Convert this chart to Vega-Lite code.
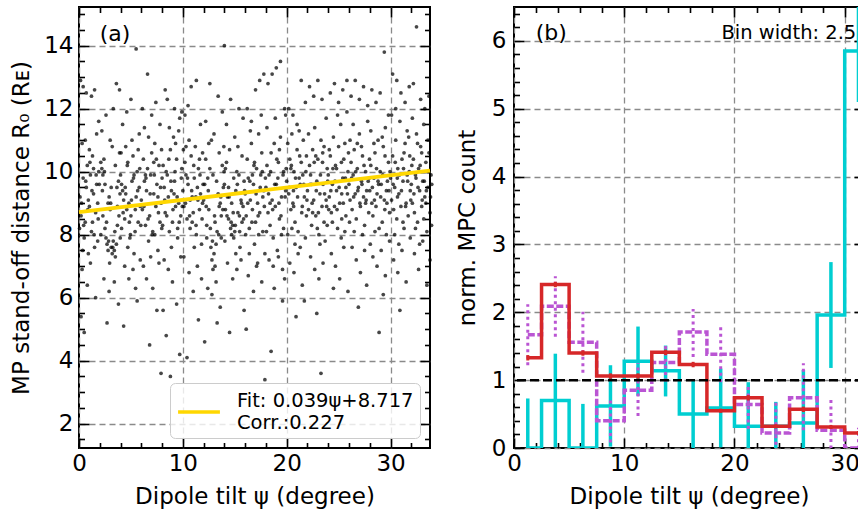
{
 "$schema": "https://vega.github.io/schema/vega-lite/v6.json",
 "padding": {"left": 9, "top": 5, "right": 0, "bottom": 0},
 "spacing": 16,
 "resolve": {"legend": {"color": "independent"}, "scale": {"color": "independent"}},
 "config": {
  "font": "DejaVu Sans",
  "view": {"stroke": "black", "strokeWidth": 2},
  "axis": {"domain": false, "tickColor": "black", "tickWidth": 1.6, "labelFont": "DejaVu Sans", "labelFontSize": 23, "labelColor": "black", "titleFont": "DejaVu Sans", "titleFontSize": 23, "titleFontWeight": "normal", "titleColor": "black", "gridColor": "#8a8a8a", "gridDash": [6, 4], "gridWidth": 1.3, "gridOpacity": 1, "labelOverlap": false, "labelFlush": false}
 },
 "datasets": {
  "scatter": [
   {"t":0.1,"r":9.2},{"t":0.2,"r":8.6},{"t":0.3,"r":10.9},{"t":0.4,"r":9.8},{"t":0.5,"r":7.9},{"t":0.6,"r":8.4},{"t":0.7,"r":9.5},{"t":0.8,"r":10.2},{"t":0.9,"r":7.4},{"t":1.0,"r":8.9},{"t":1.1,"r":9.9},{"t":1.2,"r":8.1},{"t":1.3,"r":10.5},{"t":1.4,"r":9.3},{"t":1.5,"r":7.6},{"t":1.6,"r":8.7},{"t":1.7,"r":11.2},{"t":1.8,"r":9.0},{"t":1.9,"r":10.0},{"t":0.15,"r":12.9},{"t":0.4,"r":12.7},{"t":0.7,"r":12.5},{"t":1.2,"r":12.4},{"t":1.5,"r":12.6},{"t":0.3,"r":6.9},{"t":0.8,"r":6.4},{"t":1.1,"r":7.1},{"t":1.6,"r":6.0},{"t":0.2,"r":5.4},{"t":0.5,"r":4.9},{"t":1.9,"r":11.6},{"t":0.6,"r":11.0},{"t":1.0,"r":10.7},{"t":1.3,"r":8.4},{"t":1.7,"r":9.6},{"t":0.05,"r":8.2},{"t":0.9,"r":9.1},{"t":1.4,"r":10.1},{"t":1.8,"r":7.8},{"t":0.35,"r":7.5},
   {"t":2.1,"r":10.3},{"t":2.2,"r":10.1},{"t":2.3,"r":9.9},{"t":2.4,"r":10.4},{"t":2.5,"r":8.2},{"t":2.6,"r":7.9},{"t":2.7,"r":7.7},{"t":2.8,"r":7.5},{"t":2.9,"r":9.2},{"t":3.0,"r":8.8},{"t":3.1,"r":7.6},{"t":3.2,"r":7.4},{"t":3.3,"r":7.8},{"t":3.4,"r":7.5},{"t":3.5,"r":7.3},{"t":3.6,"r":7.7},{"t":3.7,"r":8.9},{"t":3.8,"r":9.7},{"t":3.9,"r":10.6},{"t":2.2,"r":11.3},{"t":2.6,"r":11.8},{"t":3.3,"r":12.0},{"t":3.6,"r":12.8},{"t":3.9,"r":12.6},{"t":2.4,"r":6.6},{"t":2.9,"r":6.2},{"t":3.4,"r":6.5},{"t":3.8,"r":5.8},{"t":2.7,"r":5.2},{"t":3.1,"r":9.5},{"t":2.3,"r":8.6},{"t":2.8,"r":9.0},{"t":3.5,"r":10.2},{"t":3.2,"r":10.8},{"t":2.5,"r":9.6},{"t":3.7,"r":8.3},{"t":2.1,"r":8.0},{"t":3.95,"r":9.3},{"t":3.0,"r":11.0},{"t":2.95,"r":7.1},
   {"t":4.0,"r":9.9},{"t":4.1,"r":9.6},{"t":4.2,"r":9.4},{"t":4.3,"r":9.1},{"t":4.4,"r":8.5},{"t":4.5,"r":10.8},{"t":4.6,"r":8.8},{"t":4.7,"r":10.3},{"t":4.8,"r":9.0},{"t":4.9,"r":7.9},{"t":5.0,"r":8.6},{"t":5.1,"r":9.7},{"t":5.2,"r":10.5},{"t":5.3,"r":7.4},{"t":5.4,"r":8.1},{"t":5.5,"r":9.2},{"t":5.6,"r":10.0},{"t":5.7,"r":8.4},{"t":5.8,"r":9.5},{"t":5.9,"r":8.9},{"t":4.2,"r":11.5},{"t":4.6,"r":11.9},{"t":5.0,"r":12.3},{"t":5.5,"r":13.9},{"t":5.8,"r":11.2},{"t":4.4,"r":7.0},{"t":4.8,"r":6.6},{"t":5.2,"r":6.9},{"t":5.6,"r":5.9},{"t":4.3,"r":5.1},{"t":5.9,"r":7.2},{"t":4.1,"r":8.2},{"t":4.7,"r":7.6},{"t":5.3,"r":9.9},{"t":5.1,"r":11.0},{"t":4.5,"r":9.3},{"t":5.7,"r":10.7},{"t":4.95,"r":8.0},{"t":5.45,"r":6.3},{"t":4.05,"r":10.6},
   {"t":6.0,"r":9.1},{"t":6.1,"r":8.8},{"t":6.2,"r":10.4},{"t":6.3,"r":9.7},{"t":6.4,"r":8.3},{"t":6.5,"r":9.4},{"t":6.6,"r":10.1},{"t":6.7,"r":7.8},{"t":6.8,"r":8.6},{"t":6.9,"r":9.9},{"t":7.0,"r":10.6},{"t":7.1,"r":8.1},{"t":7.2,"r":9.3},{"t":7.3,"r":10.9},{"t":7.4,"r":8.9},{"t":7.5,"r":9.6},{"t":7.6,"r":7.5},{"t":7.7,"r":10.2},{"t":7.8,"r":8.4},{"t":7.9,"r":9.0},{"t":6.3,"r":11.4},{"t":6.6,"r":13.1},{"t":7.0,"r":11.8},{"t":7.4,"r":12.2},{"t":7.8,"r":11.5},{"t":6.2,"r":7.0},{"t":6.5,"r":6.6},{"t":7.1,"r":6.3},{"t":7.5,"r":5.6},{"t":6.8,"r":4.5},{"t":7.9,"r":3.6},{"t":6.1,"r":12.0},{"t":6.9,"r":7.3},{"t":7.3,"r":8.0},{"t":7.7,"r":7.1},{"t":6.4,"r":9.9},{"t":7.2,"r":10.3},{"t":7.6,"r":9.2},{"t":6.7,"r":11.1},{"t":7.95,"r":10.7},
   {"t":8.0,"r":9.8},{"t":8.1,"r":10.2},{"t":8.2,"r":9.5},{"t":8.3,"r":8.7},{"t":8.4,"r":10.0},{"t":8.5,"r":12.3},{"t":8.6,"r":9.2},{"t":8.7,"r":8.1},{"t":8.8,"r":10.7},{"t":8.9,"r":9.4},{"t":9.0,"r":8.4},{"t":9.1,"r":11.1},{"t":9.2,"r":9.7},{"t":9.3,"r":8.9},{"t":9.4,"r":10.4},{"t":9.5,"r":7.9},{"t":9.6,"r":9.0},{"t":9.7,"r":11.7},{"t":9.8,"r":8.6},{"t":9.9,"r":10.1},{"t":8.3,"r":12.6},{"t":8.7,"r":11.4},{"t":9.2,"r":12.0},{"t":9.6,"r":11.3},{"t":9.9,"r":11.9},{"t":8.2,"r":7.2},{"t":8.6,"r":6.9},{"t":9.0,"r":6.5},{"t":9.4,"r":5.8},{"t":8.8,"r":3.5},{"t":8.4,"r":4.8},{"t":9.7,"r":4.2},{"t":8.1,"r":5.6},{"t":9.8,"r":7.3},{"t":8.9,"r":7.6},{"t":9.3,"r":10.9},{"t":8.5,"r":9.9},{"t":9.5,"r":8.2},{"t":8.05,"r":8.3},{"t":9.15,"r":9.3},
   {"t":10.0,"r":9.4},{"t":10.1,"r":8.9},{"t":10.2,"r":10.3},{"t":10.3,"r":9.9},{"t":10.4,"r":8.5},{"t":10.5,"r":9.6},{"t":10.6,"r":11.0},{"t":10.7,"r":8.2},{"t":10.8,"r":10.5},{"t":10.9,"r":9.2},{"t":11.0,"r":8.7},{"t":11.1,"r":9.8},{"t":11.2,"r":10.8},{"t":11.3,"r":8.0},{"t":11.4,"r":9.5},{"t":11.5,"r":10.1},{"t":11.6,"r":8.8},{"t":11.7,"r":9.3},{"t":11.8,"r":7.7},{"t":11.9,"r":10.6},{"t":10.2,"r":11.8},{"t":10.5,"r":12.1},{"t":10.8,"r":12.7},{"t":11.3,"r":12.9},{"t":11.7,"r":11.5},{"t":10.1,"r":7.3},{"t":10.6,"r":6.8},{"t":11.0,"r":6.2},{"t":11.4,"r":7.0},{"t":11.8,"r":6.6},{"t":10.4,"r":4.1},{"t":11.5,"r":5.3},{"t":10.9,"r":8.4},{"t":11.1,"r":7.6},{"t":10.3,"r":10.8},{"t":11.6,"r":10.4},{"t":10.7,"r":9.1},{"t":11.9,"r":9.0},{"t":10.05,"r":10.7},{"t":11.25,"r":9.2},
   {"t":12.0,"r":9.1},{"t":12.1,"r":9.6},{"t":12.2,"r":10.4},{"t":12.3,"r":8.3},{"t":12.4,"r":9.8},{"t":12.5,"r":8.8},{"t":12.6,"r":10.1},{"t":12.7,"r":7.6},{"t":12.8,"r":7.2},{"t":12.9,"r":6.9},{"t":13.0,"r":7.4},{"t":13.1,"r":7.0},{"t":13.2,"r":7.7},{"t":13.3,"r":8.1},{"t":13.4,"r":9.3},{"t":13.5,"r":10.6},{"t":13.6,"r":9.0},{"t":13.7,"r":8.6},{"t":13.8,"r":10.2},{"t":13.9,"r":9.5},{"t":12.2,"r":11.6},{"t":12.6,"r":12.8},{"t":13.0,"r":11.2},{"t":13.4,"r":12.4},{"t":13.8,"r":11.9},{"t":12.4,"r":6.3},{"t":12.8,"r":6.1},{"t":13.2,"r":6.5},{"t":13.6,"r":5.7},{"t":12.1,"r":4.6},{"t":13.3,"r":5.2},{"t":14.0,"r":14.0},{"t":12.5,"r":10.9},{"t":13.1,"r":8.4},{"t":13.7,"r":7.9},{"t":12.9,"r":9.9},{"t":12.3,"r":7.9},{"t":13.5,"r":8.9},{"t":12.75,"r":11.0},{"t":13.95,"r":10.8},
   {"t":14.0,"r":9.6},{"t":14.1,"r":8.8},{"t":14.2,"r":10.3},{"t":14.3,"r":9.2},{"t":14.4,"r":8.5},{"t":14.5,"r":10.7},{"t":14.6,"r":8.2},{"t":14.7,"r":8.0},{"t":14.8,"r":8.3},{"t":14.9,"r":7.9},{"t":15.0,"r":8.1},{"t":15.1,"r":9.4},{"t":15.2,"r":10.0},{"t":15.3,"r":8.7},{"t":15.4,"r":9.9},{"t":15.5,"r":7.6},{"t":15.6,"r":9.1},{"t":15.7,"r":10.5},{"t":15.8,"r":8.9},{"t":15.9,"r":9.7},{"t":14.2,"r":11.5},{"t":14.6,"r":12.3},{"t":15.0,"r":11.1},{"t":15.4,"r":12.0},{"t":15.8,"r":11.7},{"t":14.3,"r":7.1},{"t":14.8,"r":6.6},{"t":15.2,"r":6.9},{"t":15.6,"r":7.2},{"t":14.5,"r":4.9},{"t":15.9,"r":5.6},{"t":14.1,"r":10.1},{"t":14.9,"r":9.8},{"t":15.3,"r":10.8},{"t":14.7,"r":9.0},{"t":15.1,"r":7.4},{"t":15.7,"r":8.4},{"t":14.4,"r":9.5},{"t":15.45,"r":8.6},{"t":14.05,"r":7.8},
   {"t":16.0,"r":9.3},{"t":16.1,"r":8.6},{"t":16.2,"r":10.4},{"t":16.3,"r":9.8},{"t":16.4,"r":8.2},{"t":16.5,"r":9.1},{"t":16.6,"r":10.9},{"t":16.7,"r":8.8},{"t":16.8,"r":9.6},{"t":16.9,"r":7.7},{"t":17.0,"r":8.4},{"t":17.1,"r":10.1},{"t":17.2,"r":9.0},{"t":17.3,"r":11.2},{"t":17.4,"r":8.7},{"t":17.5,"r":9.9},{"t":17.6,"r":10.6},{"t":17.7,"r":8.1},{"t":17.8,"r":9.4},{"t":17.9,"r":7.4},{"t":16.2,"r":12.0},{"t":16.6,"r":11.6},{"t":17.0,"r":12.6},{"t":17.4,"r":12.9},{"t":17.8,"r":13.1},{"t":16.3,"r":6.7},{"t":16.8,"r":6.2},{"t":17.2,"r":7.1},{"t":17.6,"r":6.5},{"t":16.1,"r":5.0},{"t":17.9,"r":3.4},{"t":16.5,"r":11.3},{"t":16.9,"r":10.3},{"t":17.3,"r":8.0},{"t":17.7,"r":9.2},{"t":16.4,"r":7.4},{"t":17.1,"r":7.0},{"t":16.7,"r":9.9},{"t":17.55,"r":11.8},{"t":16.05,"r":8.0},
   {"t":18.0,"r":9.5},{"t":18.1,"r":10.2},{"t":18.2,"r":8.7},{"t":18.3,"r":9.9},{"t":18.4,"r":8.3},{"t":18.5,"r":10.6},{"t":18.6,"r":9.1},{"t":18.7,"r":7.9},{"t":18.8,"r":10.9},{"t":18.9,"r":8.9},{"t":19.0,"r":9.6},{"t":19.1,"r":7.5},{"t":19.2,"r":10.3},{"t":19.3,"r":8.5},{"t":19.4,"r":11.1},{"t":19.5,"r":9.2},{"t":19.6,"r":6.9},{"t":19.7,"r":10.0},{"t":19.8,"r":6.6},{"t":19.9,"r":9.4},{"t":18.2,"r":12.8},{"t":18.6,"r":13.1},{"t":19.0,"r":13.3},{"t":19.4,"r":13.5},{"t":19.8,"r":12.0},{"t":18.3,"r":7.2},{"t":18.8,"r":6.3},{"t":19.2,"r":7.3},{"t":19.6,"r":5.9},{"t":18.5,"r":4.3},{"t":19.9,"r":11.8},{"t":18.1,"r":11.4},{"t":18.9,"r":11.7},{"t":19.3,"r":10.7},{"t":18.4,"r":9.0},{"t":19.7,"r":8.2},{"t":18.7,"r":7.0},{"t":19.5,"r":8.0},{"t":18.05,"r":8.1},{"t":19.15,"r":9.8},
   {"t":20.0,"r":9.7},{"t":20.1,"r":10.9},{"t":20.2,"r":9.3},{"t":20.3,"r":10.4},{"t":20.4,"r":8.8},{"t":20.5,"r":11.2},{"t":20.6,"r":9.0},{"t":20.7,"r":10.0},{"t":20.8,"r":8.4},{"t":20.9,"r":9.5},{"t":21.0,"r":10.7},{"t":21.1,"r":8.1},{"t":21.2,"r":9.8},{"t":21.3,"r":7.6},{"t":21.4,"r":10.3},{"t":21.5,"r":8.9},{"t":21.6,"r":11.0},{"t":21.7,"r":9.2},{"t":21.8,"r":7.9},{"t":21.9,"r":10.5},{"t":20.2,"r":12.0},{"t":20.6,"r":11.8},{"t":21.0,"r":11.5},{"t":21.4,"r":12.9},{"t":21.8,"r":12.2},{"t":20.3,"r":7.1},{"t":20.7,"r":6.8},{"t":21.1,"r":7.4},{"t":21.5,"r":6.4},{"t":20.9,"r":5.4},{"t":21.7,"r":5.9},{"t":20.1,"r":8.0},{"t":20.8,"r":7.7},{"t":21.3,"r":9.6},{"t":20.4,"r":10.1},{"t":21.9,"r":8.6},{"t":20.5,"r":8.2},{"t":21.2,"r":11.3},{"t":20.65,"r":9.4},{"t":21.55,"r":9.9},
   {"t":22.0,"r":9.4},{"t":22.1,"r":8.8},{"t":22.2,"r":10.2},{"t":22.3,"r":9.9},{"t":22.4,"r":8.3},{"t":22.5,"r":10.7},{"t":22.6,"r":9.1},{"t":22.7,"r":11.4},{"t":22.8,"r":8.6},{"t":22.9,"r":9.7},{"t":23.0,"r":10.4},{"t":23.1,"r":8.0},{"t":23.2,"r":9.3},{"t":23.3,"r":11.0},{"t":23.4,"r":8.9},{"t":23.5,"r":9.6},{"t":23.6,"r":10.8},{"t":23.7,"r":7.8},{"t":23.8,"r":9.1},{"t":23.9,"r":10.1},{"t":22.2,"r":12.7},{"t":22.6,"r":12.4},{"t":23.0,"r":12.9},{"t":23.4,"r":12.3},{"t":23.8,"r":11.7},{"t":22.3,"r":7.3},{"t":22.7,"r":6.9},{"t":23.1,"r":6.6},{"t":23.5,"r":7.1},{"t":22.9,"r":5.5},{"t":23.3,"r":3.6},{"t":22.1,"r":11.2},{"t":22.8,"r":10.5},{"t":23.6,"r":8.4},{"t":22.5,"r":8.7},{"t":23.2,"r":7.7},{"t":23.9,"r":8.3},{"t":22.4,"r":9.6},{"t":23.45,"r":10.3},{"t":22.95,"r":8.2},
   {"t":24.0,"r":9.9},{"t":24.1,"r":9.2},{"t":24.2,"r":10.5},{"t":24.3,"r":8.7},{"t":24.4,"r":9.6},{"t":24.5,"r":11.1},{"t":24.6,"r":8.9},{"t":24.7,"r":10.2},{"t":24.8,"r":9.4},{"t":24.9,"r":8.2},{"t":25.0,"r":10.8},{"t":25.1,"r":9.0},{"t":25.2,"r":11.5},{"t":25.3,"r":8.5},{"t":25.4,"r":9.8},{"t":25.5,"r":10.4},{"t":25.6,"r":8.1},{"t":25.7,"r":9.5},{"t":25.8,"r":11.9},{"t":25.9,"r":10.0},{"t":24.2,"r":12.5},{"t":24.6,"r":12.8},{"t":25.0,"r":12.2},{"t":25.4,"r":12.6},{"t":25.8,"r":12.9},{"t":24.3,"r":7.4},{"t":24.7,"r":7.0},{"t":25.1,"r":6.6},{"t":25.5,"r":7.6},{"t":24.5,"r":6.3},{"t":25.9,"r":6.2},{"t":24.1,"r":10.7},{"t":24.9,"r":11.8},{"t":25.3,"r":9.3},{"t":24.4,"r":8.4},{"t":25.7,"r":8.6},{"t":24.8,"r":10.1},{"t":25.6,"r":10.9},{"t":24.05,"r":8.8},{"t":25.25,"r":7.9},
   {"t":26.0,"r":9.6},{"t":26.1,"r":9.1},{"t":26.2,"r":10.3},{"t":26.3,"r":8.8},{"t":26.4,"r":9.9},{"t":26.5,"r":10.7},{"t":26.6,"r":9.3},{"t":26.7,"r":8.5},{"t":26.8,"r":10.1},{"t":26.9,"r":9.5},{"t":27.0,"r":11.2},{"t":27.1,"r":8.9},{"t":27.2,"r":9.7},{"t":27.3,"r":10.5},{"t":27.4,"r":9.2},{"t":27.5,"r":8.3},{"t":27.6,"r":10.0},{"t":27.7,"r":9.4},{"t":27.8,"r":11.6},{"t":27.9,"r":8.7},{"t":26.2,"r":12.4},{"t":26.6,"r":12.9},{"t":27.0,"r":12.3},{"t":27.4,"r":12.7},{"t":27.8,"r":12.1},{"t":26.3,"r":7.6},{"t":26.7,"r":7.2},{"t":27.1,"r":6.8},{"t":27.5,"r":7.5},{"t":26.9,"r":5.7},{"t":27.7,"r":6.4},{"t":26.1,"r":11.0},{"t":26.5,"r":8.1},{"t":27.3,"r":8.0},{"t":26.8,"r":10.9},{"t":27.6,"r":9.0},{"t":26.4,"r":11.5},{"t":27.2,"r":10.8},{"t":26.05,"r":8.4},{"t":27.95,"r":9.8},
   {"t":28.0,"r":9.4},{"t":28.1,"r":10.2},{"t":28.2,"r":9.0},{"t":28.3,"r":8.6},{"t":28.4,"r":9.8},{"t":28.5,"r":10.6},{"t":28.6,"r":8.9},{"t":28.7,"r":9.3},{"t":28.8,"r":11.0},{"t":28.9,"r":8.2},{"t":29.0,"r":10.0},{"t":29.1,"r":9.6},{"t":29.2,"r":8.4},{"t":29.3,"r":10.8},{"t":29.4,"r":9.1},{"t":29.5,"r":11.4},{"t":29.6,"r":8.0},{"t":29.7,"r":9.7},{"t":29.8,"r":10.3},{"t":29.9,"r":8.7},{"t":28.2,"r":12.6},{"t":28.6,"r":12.2},{"t":29.0,"r":12.5},{"t":29.4,"r":13.8},{"t":29.8,"r":11.8},{"t":28.3,"r":7.3},{"t":28.7,"r":7.0},{"t":29.1,"r":7.5},{"t":29.5,"r":6.7},{"t":28.9,"r":4.9},{"t":29.3,"r":6.1},{"t":28.1,"r":11.3},{"t":28.5,"r":8.1},{"t":29.2,"r":11.1},{"t":29.6,"r":9.4},{"t":28.4,"r":10.9},{"t":29.9,"r":7.8},{"t":28.8,"r":9.7},{"t":29.45,"r":8.8},{"t":28.05,"r":7.7},
   {"t":30.0,"r":9.8},{"t":30.1,"r":9.1},{"t":30.2,"r":10.5},{"t":30.3,"r":8.8},{"t":30.4,"r":9.5},{"t":30.5,"r":11.0},{"t":30.6,"r":8.5},{"t":30.7,"r":10.1},{"t":30.8,"r":9.3},{"t":30.9,"r":11.6},{"t":31.0,"r":8.9},{"t":31.1,"r":10.4},{"t":31.2,"r":9.7},{"t":31.3,"r":8.2},{"t":31.4,"r":10.9},{"t":31.5,"r":9.0},{"t":31.6,"r":11.3},{"t":31.7,"r":8.6},{"t":31.8,"r":10.0},{"t":31.9,"r":9.4},{"t":30.2,"r":13.1},{"t":30.6,"r":12.9},{"t":31.0,"r":12.5},{"t":31.4,"r":12.2},{"t":31.8,"r":12.7},{"t":30.3,"r":7.2},{"t":30.7,"r":6.8},{"t":31.1,"r":7.5},{"t":31.5,"r":6.5},{"t":30.9,"r":5.6},{"t":31.9,"r":7.9},{"t":30.1,"r":11.8},{"t":30.4,"r":8.0},{"t":31.3,"r":10.6},{"t":30.8,"r":7.7},{"t":31.6,"r":9.9},{"t":30.5,"r":12.0},{"t":31.2,"r":8.4},{"t":30.65,"r":9.8},{"t":31.75,"r":11.1},
   {"t":32.0,"r":9.6},{"t":32.1,"r":9.0},{"t":32.2,"r":10.4},{"t":32.3,"r":8.7},{"t":32.4,"r":9.9},{"t":32.5,"r":11.2},{"t":32.6,"r":8.4},{"t":32.7,"r":10.1},{"t":32.8,"r":9.4},{"t":32.9,"r":10.8},{"t":33.0,"r":8.9},{"t":33.1,"r":9.7},{"t":33.2,"r":11.5},{"t":33.3,"r":9.2},{"t":33.4,"r":10.3},{"t":33.5,"r":8.1},{"t":33.6,"r":9.5},{"t":33.7,"r":10.6},{"t":33.8,"r":8.7},{"t":33.9,"r":9.9},{"t":32.2,"r":12.8},{"t":32.5,"r":14.6},{"t":32.9,"r":12.3},{"t":33.3,"r":12.0},{"t":33.7,"r":12.4},{"t":32.3,"r":7.4},{"t":32.7,"r":6.9},{"t":33.1,"r":7.8},{"t":33.5,"r":6.4},{"t":33.8,"r":7.2},{"t":32.1,"r":11.7},{"t":32.6,"r":10.9},{"t":33.0,"r":10.6},{"t":33.6,"r":11.0},{"t":32.4,"r":8.2},{"t":33.2,"r":8.5},{"t":32.8,"r":7.7},{"t":33.4,"r":9.0},{"t":32.05,"r":10.2},{"t":33.95,"r":8.3},
   {"t":0.25,"r":9.0},{"t":0.45,"r":8.3},{"t":0.65,"r":9.7},{"t":0.85,"r":8.8},{"t":1.05,"r":10.3},{"t":1.25,"r":9.4},{"t":1.45,"r":8.0},{"t":1.65,"r":9.9},{"t":1.85,"r":8.5},{"t":1.95,"r":9.6},
   {"t":2.25,"r":9.4},{"t":2.45,"r":10.0},{"t":2.65,"r":8.4},{"t":2.85,"r":7.8},{"t":3.05,"r":9.0},{"t":3.25,"r":7.6},{"t":3.45,"r":8.1},{"t":3.65,"r":9.5},{"t":3.85,"r":8.6},{"t":3.97,"r":7.9},
   {"t":4.25,"r":8.7},{"t":4.45,"r":9.5},{"t":4.65,"r":10.2},{"t":4.85,"r":8.4},{"t":5.05,"r":9.1},{"t":5.25,"r":9.8},{"t":5.42,"r":8.8},{"t":5.65,"r":9.4},{"t":5.85,"r":10.1},{"t":5.95,"r":8.3},
   {"t":6.25,"r":8.9},{"t":6.45,"r":9.8},{"t":6.65,"r":8.5},{"t":6.85,"r":9.3},{"t":7.05,"r":8.0},{"t":7.25,"r":9.9},{"t":7.45,"r":10.4},{"t":7.65,"r":8.7},{"t":7.85,"r":9.5},{"t":7.97,"r":8.2},
   {"t":8.25,"r":9.1},{"t":8.45,"r":8.6},{"t":8.65,"r":10.4},{"t":8.85,"r":9.7},{"t":9.05,"r":8.8},{"t":9.25,"r":10.0},{"t":9.45,"r":9.2},{"t":9.65,"r":8.4},{"t":9.85,"r":9.8},{"t":9.95,"r":8.9},
   {"t":10.25,"r":9.0},{"t":10.45,"r":9.8},{"t":10.65,"r":8.6},{"t":10.85,"r":9.4},{"t":11.05,"r":10.2},{"t":11.27,"r":8.3},{"t":11.45,"r":9.1},{"t":11.65,"r":9.9},{"t":11.85,"r":8.5},{"t":11.95,"r":9.6},
   {"t":12.25,"r":8.9},{"t":12.45,"r":9.4},{"t":12.65,"r":8.2},{"t":12.85,"r":7.8},{"t":13.05,"r":8.6},{"t":13.25,"r":9.7},{"t":13.45,"r":8.0},{"t":13.65,"r":9.2},{"t":13.85,"r":8.8},{"t":13.97,"r":10.0},
   {"t":14.25,"r":8.6},{"t":14.45,"r":9.2},{"t":14.65,"r":8.4},{"t":14.85,"r":8.7},{"t":15.05,"r":8.3},{"t":15.25,"r":9.6},{"t":15.47,"r":8.1},{"t":15.65,"r":9.0},{"t":15.85,"r":8.5},{"t":15.95,"r":9.4},
   {"t":16.25,"r":9.0},{"t":16.45,"r":9.7},{"t":16.65,"r":8.4},{"t":16.85,"r":10.2},{"t":17.05,"r":9.3},{"t":17.25,"r":8.6},{"t":17.45,"r":9.5},{"t":17.65,"r":10.0},{"t":17.85,"r":8.9},{"t":17.95,"r":9.8},
   {"t":18.25,"r":9.3},{"t":18.45,"r":10.0},{"t":18.65,"r":8.8},{"t":18.85,"r":9.6},{"t":19.05,"r":10.4},{"t":19.25,"r":9.0},{"t":19.45,"r":8.6},{"t":19.65,"r":9.9},{"t":19.85,"r":9.2},{"t":19.95,"r":10.1},
   {"t":20.25,"r":9.5},{"t":20.45,"r":10.2},{"t":20.67,"r":8.9},{"t":20.85,"r":9.8},{"t":21.05,"r":9.2},{"t":21.25,"r":10.5},{"t":21.45,"r":8.7},{"t":21.65,"r":9.6},{"t":21.85,"r":10.0},{"t":21.95,"r":9.1},
   {"t":22.25,"r":9.6},{"t":22.45,"r":9.0},{"t":22.65,"r":10.3},{"t":22.85,"r":9.4},{"t":23.05,"r":8.7},{"t":23.25,"r":9.9},{"t":23.47,"r":10.6},{"t":23.65,"r":9.3},{"t":23.85,"r":8.9},{"t":23.95,"r":9.7},
   {"t":24.25,"r":9.4},{"t":24.45,"r":10.1},{"t":24.65,"r":9.7},{"t":24.85,"r":8.8},{"t":25.05,"r":9.5},{"t":25.27,"r":10.3},{"t":25.45,"r":9.0},{"t":25.65,"r":9.8},{"t":25.85,"r":9.3},{"t":25.95,"r":10.6},
   {"t":26.25,"r":9.8},{"t":26.45,"r":9.2},{"t":26.65,"r":10.0},{"t":26.85,"r":9.4},{"t":27.05,"r":9.0},{"t":27.25,"r":9.6},{"t":27.45,"r":10.2},{"t":27.65,"r":9.1},{"t":27.85,"r":9.7},{"t":27.97,"r":10.4},
   {"t":28.25,"r":9.5},{"t":28.45,"r":9.1},{"t":28.65,"r":10.1},{"t":28.85,"r":9.6},{"t":29.05,"r":9.2},{"t":29.25,"r":9.9},{"t":29.47,"r":10.5},{"t":29.65,"r":9.0},{"t":29.85,"r":9.4},{"t":29.95,"r":10.0},
   {"t":30.25,"r":9.6},{"t":30.45,"r":10.3},{"t":30.67,"r":9.2},{"t":30.85,"r":9.9},{"t":31.05,"r":9.4},{"t":31.25,"r":10.1},{"t":31.45,"r":8.9},{"t":31.65,"r":9.7},{"t":31.85,"r":10.5},{"t":31.95,"r":9.1},
   {"t":32.25,"r":9.3},{"t":32.45,"r":9.8},{"t":32.65,"r":9.5},{"t":32.85,"r":10.2},{"t":33.05,"r":9.1},{"t":33.25,"r":9.7},{"t":33.45,"r":9.4},{"t":33.65,"r":10.0},{"t":33.85,"r":9.2},{"t":33.97,"r":9.6}
  ],
  "fit": [
   {"t": 0, "r": 8.717, "k": "Fit"},
   {"t": 33.8, "r": 10.035, "k": "Fit"}
  ],
  "hist": [
   {"s":"c","t":1.25,"v":0.0,"lo":-0.73,"hi":0.73},
   {"s":"c","t":3.75,"v":0.70,"lo":0.01,"hi":1.39},
   {"s":"c","t":6.25,"v":0.0,"lo":-0.65,"hi":0.65},
   {"s":"c","t":8.75,"v":0.62,"lo":0.02,"hi":1.22},
   {"s":"c","t":11.25,"v":1.28,"lo":0.77,"hi":1.79},
   {"s":"c","t":13.75,"v":1.14,"lo":0.76,"hi":1.51},
   {"s":"c","t":16.25,"v":0.50,"lo":0.0,"hi":1.0},
   {"s":"c","t":18.75,"v":0.59,"lo":0.01,"hi":1.17},
   {"s":"c","t":21.25,"v":0.32,"lo":-0.33,"hi":0.97},
   {"s":"c","t":23.75,"v":0.32,"lo":-0.04,"hi":0.68},
   {"s":"c","t":26.25,"v":0.37,"lo":-0.41,"hi":1.15},
   {"s":"c","t":28.75,"v":1.96,"lo":1.18,"hi":2.74},
   {"s":"c","t":31.25,"v":5.85,"lo":5.10,"hi":6.60},
   {"s":"p","t":1.25,"v":1.67,"lo":1.22,"hi":2.12},
   {"s":"p","t":3.75,"v":2.09,"lo":1.64,"hi":2.53},
   {"s":"p","t":6.25,"v":1.56,"lo":1.11,"hi":2.01},
   {"s":"p","t":8.75,"v":0.40,"lo":0.08,"hi":0.72},
   {"s":"p","t":11.25,"v":0.85,"lo":0.47,"hi":1.25},
   {"s":"p","t":13.75,"v":1.26,"lo":0.98,"hi":1.52},
   {"s":"p","t":16.25,"v":1.71,"lo":1.34,"hi":2.05},
   {"s":"p","t":18.75,"v":1.38,"lo":0.97,"hi":1.79},
   {"s":"p","t":21.25,"v":0.64,"lo":0.28,"hi":0.92},
   {"s":"p","t":23.75,"v":0.22,"lo":-0.24,"hi":0.68},
   {"s":"p","t":26.25,"v":0.74,"lo":0.26,"hi":1.25},
   {"s":"p","t":28.75,"v":0.26,"lo":-0.20,"hi":0.72},
   {"s":"p","t":31.25,"v":0.0,"lo":-0.30,"hi":0.30},
   {"s":"r","t":1.25,"v":1.33,"lo":1.29,"hi":1.37},
   {"s":"r","t":3.75,"v":2.41,"lo":2.37,"hi":2.45},
   {"s":"r","t":6.25,"v":1.40,"lo":1.36,"hi":1.44},
   {"s":"r","t":8.75,"v":1.06,"lo":1.02,"hi":1.10},
   {"s":"r","t":11.25,"v":1.06,"lo":1.02,"hi":1.10},
   {"s":"r","t":13.75,"v":1.41,"lo":1.37,"hi":1.45},
   {"s":"r","t":16.25,"v":1.23,"lo":1.19,"hi":1.27},
   {"s":"r","t":18.75,"v":0.55,"lo":0.52,"hi":0.58},
   {"s":"r","t":21.25,"v":0.74,"lo":0.70,"hi":0.78},
   {"s":"r","t":23.75,"v":0.32,"lo":0.29,"hi":0.35},
   {"s":"r","t":26.25,"v":0.57,"lo":0.53,"hi":0.61},
   {"s":"r","t":28.75,"v":0.31,"lo":0.28,"hi":0.34},
   {"s":"r","t":31.25,"v":0.22,"lo":0.19,"hi":0.25}
  ]
 },
 "hconcat": [
  {
   "width": 351,
   "height": 441,
   "resolve": {"axis": {"x": "independent", "y": "independent"}},
   "layer": [
    {
     "data": {"name": "scatter"},
     "mark": {"type": "circle", "size": 14, "opacity": 0.72, "color": "black"},
     "encoding": {
      "x": {"field": "t", "type": "quantitative", "scale": {"domain": [0, 33.8], "nice": false, "zero": false},
            "axis": {"orient": "bottom", "values": [0, 10, 20, 30], "format": "d", "tickSize": -10, "grid": true, "labelPadding": 14, "title": "Dipole tilt ψ (degree)", "titlePadding": 10}},
      "y": {"field": "r", "type": "quantitative", "scale": {"domain": [1.23, 15.23], "nice": false, "zero": false},
            "axis": {"orient": "left", "values": [2, 4, 6, 8, 10, 12, 14], "format": "d", "tickSize": -10, "grid": true, "labelPadding": 16, "title": "MP stand-off distance R₀ (Rᴇ)", "titlePadding": 10}}
     }
    },
    {
     "data": {"name": "fit"},
     "mark": {"type": "line", "strokeWidth": 3.8},
     "encoding": {
      "x": {"field": "t", "type": "quantitative", "scale": {"domain": [0, 33.8], "nice": false, "zero": false},
            "axis": {"orient": "bottom", "values": [2, 4, 6, 8, 12, 14, 16, 18, 22, 24, 26, 28, 32], "tickSize": -5.5, "labels": false, "grid": false, "title": null}},
      "y": {"field": "r", "type": "quantitative", "scale": {"domain": [1.23, 15.23], "nice": false, "zero": false},
            "axis": {"orient": "left", "values": [1.5, 2.5, 3, 3.5, 4.5, 5, 5.5, 6.5, 7, 7.5, 8.5, 9, 9.5, 10.5, 11, 11.5, 12.5, 13, 13.5, 14.5, 15], "tickSize": -5.5, "labels": false, "grid": false, "title": null}},
      "color": {"field": "k", "type": "nominal", "scale": {"range": ["#FFD700"]},
                "legend": {"orient": "bottom-right", "offset": 10, "title": null, "symbolType": "stroke", "symbolStrokeWidth": 3.5, "symbolSize": 1750, "symbolStrokeColor": "#FFD700", "labelExpr": "['Fit: 0.039ψ+8.717', 'Corr.:0.227']", "labelFontSize": 19.5, "labelFont": "DejaVu Sans", "labelColor": "black", "labelOffset": 15, "labelLimit": 400, "fillColor": "rgba(255,255,255,0.8)", "strokeColor": "#cccccc", "cornerRadius": 5, "padding": 6,
                           "encode": {"labels": {"update": {"lineHeight": {"value": 21.5}, "dy": {"value": -11}}}}}}
     }
    },
    {
     "data": {"values": [{}]},
     "mark": {"type": "text", "text": "(a)", "align": "left", "baseline": "middle", "fontSize": 22, "font": "DejaVu Sans", "color": "black"},
     "encoding": {
      "x": {"datum": 2.0, "type": "quantitative", "scale": {"domain": [0, 33.8], "nice": false, "zero": false},
            "axis": {"orient": "top", "values": [0, 10, 20, 30], "tickSize": -10, "labels": false, "grid": false, "title": null}},
      "y": {"datum": 14.36, "type": "quantitative", "scale": {"domain": [1.23, 15.23], "nice": false, "zero": false},
            "axis": {"orient": "right", "values": [2, 4, 6, 8, 10, 12, 14], "tickSize": -10, "labels": false, "grid": false, "title": null}}
     }
    },
    {
     "data": {"name": "fit"},
     "mark": {"type": "point", "opacity": 0},
     "encoding": {
      "x": {"field": "t", "type": "quantitative", "scale": {"domain": [0, 33.8], "nice": false, "zero": false},
            "axis": {"orient": "top", "values": [2, 4, 6, 8, 12, 14, 16, 18, 22, 24, 26, 28, 32], "tickSize": -5.5, "labels": false, "grid": false, "title": null}},
      "y": {"field": "r", "type": "quantitative", "scale": {"domain": [1.23, 15.23], "nice": false, "zero": false},
            "axis": {"orient": "right", "values": [1.5, 2.5, 3, 3.5, 4.5, 5, 5.5, 6.5, 7, 7.5, 8.5, 9, 9.5, 10.5, 11, 11.5, 12.5, 13, 13.5, 14.5, 15], "tickSize": -5.5, "labels": false, "grid": false, "title": null}}
     }
    }
   ]
  },
  {
   "width": 350,
   "height": 441,
   "data": {"name": "hist"},
   "resolve": {"axis": {"x": "independent", "y": "independent"}},
   "layer": [
    {
     "transform": [{"filter": "datum.s === 'c'"}],
     "mark": {"type": "line", "interpolate": "step", "color": "#00CED1", "strokeWidth": 3.5, "clip": true},
     "encoding": {
      "x": {"field": "t", "type": "quantitative", "scale": {"domain": [0, 31.75], "nice": false, "zero": false},
            "axis": {"orient": "bottom", "values": [0, 10, 20, 30], "format": "d", "tickSize": -10, "grid": true, "labelPadding": 14, "title": "Dipole tilt ψ (degree)", "titlePadding": 10}},
      "y": {"field": "v", "type": "quantitative", "scale": {"domain": [0, 6.5], "nice": false, "zero": false},
            "axis": {"orient": "left", "values": [0, 1, 2, 3, 4, 5, 6], "format": "d", "tickSize": -10, "grid": true, "labelPadding": 18, "title": "norm. MPC count", "titlePadding": 12}}
     }
    },
    {
     "transform": [{"filter": "datum.s === 'c'"}],
     "mark": {"type": "rule", "color": "#00CED1", "strokeWidth": 3.5, "clip": true},
     "encoding": {
      "x": {"field": "t", "type": "quantitative", "scale": {"domain": [0, 31.75], "nice": false, "zero": false},
            "axis": {"orient": "bottom", "values": [2, 4, 6, 8, 12, 14, 16, 18, 22, 24, 26, 28], "tickSize": -5.5, "labels": false, "grid": false, "title": null}},
      "y": {"field": "lo", "type": "quantitative", "scale": {"domain": [0, 6.5], "nice": false, "zero": false},
            "axis": {"orient": "left", "values": [0.2, 0.4, 0.6, 0.8, 1.2, 1.4, 1.6, 1.8, 2.2, 2.4, 2.6, 2.8, 3.2, 3.4, 3.6, 3.8, 4.2, 4.4, 4.6, 4.8, 5.2, 5.4, 5.6, 5.8, 6.2, 6.4], "tickSize": -5.5, "labels": false, "grid": false, "title": null}},
      "y2": {"field": "hi"}
     }
    },
    {
     "transform": [{"filter": "datum.s === 'p'"}],
     "mark": {"type": "line", "interpolate": "step", "color": "#BA55D3", "strokeWidth": 3.5, "strokeDash": [7, 2.5], "clip": true},
     "encoding": {
      "x": {"field": "t", "type": "quantitative", "scale": {"domain": [0, 31.75], "nice": false, "zero": false},
            "axis": {"orient": "top", "values": [0, 10, 20, 30], "tickSize": -10, "labels": false, "grid": false, "title": null}},
      "y": {"field": "v", "type": "quantitative", "scale": {"domain": [0, 6.5], "nice": false, "zero": false},
            "axis": {"orient": "right", "values": [0, 1, 2, 3, 4, 5, 6], "tickSize": -10, "labels": false, "grid": false, "title": null}}
     }
    },
    {
     "transform": [{"filter": "datum.s === 'p'"}],
     "mark": {"type": "rule", "color": "#BA55D3", "strokeWidth": 3, "strokeDash": [3, 3.5], "clip": true},
     "encoding": {
      "x": {"field": "t", "type": "quantitative", "scale": {"domain": [0, 31.75], "nice": false, "zero": false},
            "axis": {"orient": "top", "values": [2, 4, 6, 8, 12, 14, 16, 18, 22, 24, 26, 28], "tickSize": -5.5, "labels": false, "grid": false, "title": null}},
      "y": {"field": "lo", "type": "quantitative", "scale": {"domain": [0, 6.5], "nice": false, "zero": false},
            "axis": {"orient": "right", "values": [0.2, 0.4, 0.6, 0.8, 1.2, 1.4, 1.6, 1.8, 2.2, 2.4, 2.6, 2.8, 3.2, 3.4, 3.6, 3.8, 4.2, 4.4, 4.6, 4.8, 5.2, 5.4, 5.6, 5.8, 6.2, 6.4], "tickSize": -5.5, "labels": false, "grid": false, "title": null}},
      "y2": {"field": "hi"}
     }
    },
    {
     "transform": [{"filter": "datum.s === 'r'"}],
     "mark": {"type": "line", "interpolate": "step", "color": "#D62728", "strokeWidth": 3.5, "clip": true},
     "encoding": {
      "x": {"field": "t", "type": "quantitative", "scale": {"domain": [0, 31.75], "nice": false, "zero": false}, "axis": null},
      "y": {"field": "v", "type": "quantitative", "scale": {"domain": [0, 6.5], "nice": false, "zero": false}, "axis": null}
     }
    },
    {
     "transform": [{"filter": "datum.s === 'r'"}],
     "mark": {"type": "rule", "color": "#D62728", "strokeWidth": 3, "clip": true},
     "encoding": {
      "x": {"field": "t", "type": "quantitative", "scale": {"domain": [0, 31.75], "nice": false, "zero": false}, "axis": null},
      "y": {"field": "lo", "type": "quantitative", "scale": {"domain": [0, 6.5], "nice": false, "zero": false}, "axis": null},
      "y2": {"field": "hi"}
     }
    },
    {
     "data": {"values": [{}]},
     "mark": {"type": "rule", "color": "black", "strokeWidth": 2.5, "strokeDash": [9, 4]},
     "encoding": {
      "y": {"datum": 1, "type": "quantitative", "scale": {"domain": [0, 6.5], "nice": false, "zero": false}, "axis": null}
     }
    },
    {
     "data": {"values": [{}]},
     "mark": {"type": "text", "text": "(b)", "align": "left", "baseline": "middle", "fontSize": 22, "font": "DejaVu Sans", "color": "black"},
     "encoding": {
      "x": {"datum": 1.97, "type": "quantitative", "scale": {"domain": [0, 31.75], "nice": false, "zero": false}, "axis": null},
      "y": {"datum": 6.11, "type": "quantitative", "scale": {"domain": [0, 6.5], "nice": false, "zero": false}, "axis": null}
     }
    },
    {
     "data": {"values": [{}]},
     "mark": {"type": "text", "text": "Bin width: 2.5", "align": "right", "baseline": "middle", "fontSize": 19.5, "font": "DejaVu Sans", "color": "black"},
     "encoding": {
      "x": {"datum": 31.05, "type": "quantitative", "scale": {"domain": [0, 31.75], "nice": false, "zero": false}, "axis": null},
      "y": {"datum": 6.11, "type": "quantitative", "scale": {"domain": [0, 6.5], "nice": false, "zero": false}, "axis": null}
     }
    }
   ]
  }
 ]
}
